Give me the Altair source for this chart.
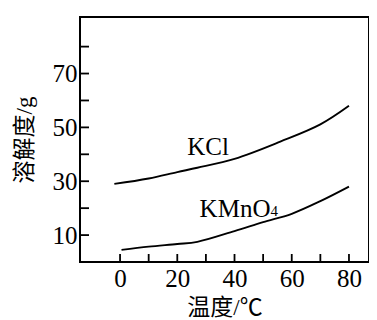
import altair as alt
import pandas as pd

# KCl solubility curve (temperature in °C, solubility in g)
kcl_t = [-2, 10, 20, 27, 40, 56, 70, 80]
kcl_s = [29.0, 31.0, 33.4, 35.0, 38.3, 44.7, 51.1, 58.0]
# KMnO4 solubility curve
kmno4_t = [0.5, 10, 20, 27, 40, 50, 60, 70, 80]
kmno4_s = [4.5, 5.7, 6.7, 7.5, 11.5, 14.8, 17.9, 22.6, 28.0]

x_tick_vals = [0, 10, 20, 30, 40, 50, 60, 70, 80]
y_tick_vals = [10, 20, 30, 40, 50, 60, 70, 80]
x_label_vals = [0, 20, 40, 60, 80]
y_label_vals = [10, 30, 50, 70]

label_text = ["KCl", "KMnO"]
label_t = [23.5, 27.8]
label_s = [39.8, 16.7]
sub_text = ["4"]
sub_t = [27.8]
sub_s = [16.7]

W, H = 289, 245
serif = "Liberation Serif, Noto Sans CJK SC"

curves = pd.DataFrame(
    {"t": kcl_t + kmno4_t,
     "s": kcl_s + kmno4_s,
     "name": ["KCl"] * len(kcl_t) + ["KMnO4"] * len(kmno4_t)}
)
labels = pd.DataFrame({"text": label_text, "t": label_t, "s": label_s})
subs = pd.DataFrame({"text": sub_text, "t": sub_t, "s": sub_s})
xt = pd.DataFrame({"t": x_tick_vals})
yt = pd.DataFrame({"s": y_tick_vals})

xscale = alt.Scale(domain=[-14, 87], nice=False, zero=False)
yscale = alt.Scale(domain=[0, 91], nice=False, zero=False)

xaxis = alt.Axis(values=x_label_vals, domain=False, ticks=False, tickSize=0, grid=False,
                 labelFont=serif, labelFontSize=25, labelPadding=4, labelColor="black",
                 title="温度/℃", titleFont=serif, titleFontSize=23, titleFontWeight="normal",
                 titlePadding=5, titleColor="black")
yaxis = alt.Axis(values=y_label_vals, domain=False, ticks=False, tickSize=0, grid=False,
                 labelFont=serif, labelFontSize=25, labelPadding=3, labelColor="black",
                 title="溶解度/g", titleFont=serif, titleFontSize=23, titleFontWeight="normal",
                 titlePadding=16, titleColor="black")

lines = alt.Chart(curves).mark_line(color="black", strokeWidth=1.9, interpolate="catmull-rom").encode(
    x=alt.X("t:Q", scale=xscale, axis=xaxis),
    y=alt.Y("s:Q", scale=yscale, axis=yaxis),
    detail="name:N",
)

text = alt.Chart(labels).mark_text(font=serif, fontSize=25, align="left", baseline="alphabetic",
                                   color="black").encode(
    x=alt.X("t:Q", scale=xscale),
    y=alt.Y("s:Q", scale=yscale),
    text="text:N",
)

subtext = alt.Chart(subs).mark_text(font=serif, fontSize=15, align="left", baseline="alphabetic",
                                    color="black", dx=71, dy=-1).encode(
    x=alt.X("t:Q", scale=xscale),
    y=alt.Y("s:Q", scale=yscale),
    text="text:N",
)

xticks = alt.Chart(xt).mark_rule(color="black", strokeWidth=1.8).encode(
    x=alt.X("t:Q", scale=xscale),
    y=alt.value(H),
    y2=alt.value(H - 8),
)

yticks = alt.Chart(yt).mark_rule(color="black", strokeWidth=1.8).encode(
    y=alt.Y("s:Q", scale=yscale),
    x=alt.value(0),
    x2=alt.value(9),
)

chart = alt.layer(lines, text, subtext, xticks, yticks).properties(
    width=W, height=H,
    padding={"left": 5, "top": 9, "right": 0, "bottom": 0},
    background="white",
).configure_view(stroke="black", strokeWidth=2)

chart.save("out.html", embed_options={"renderer": "svg", "actions": False})
